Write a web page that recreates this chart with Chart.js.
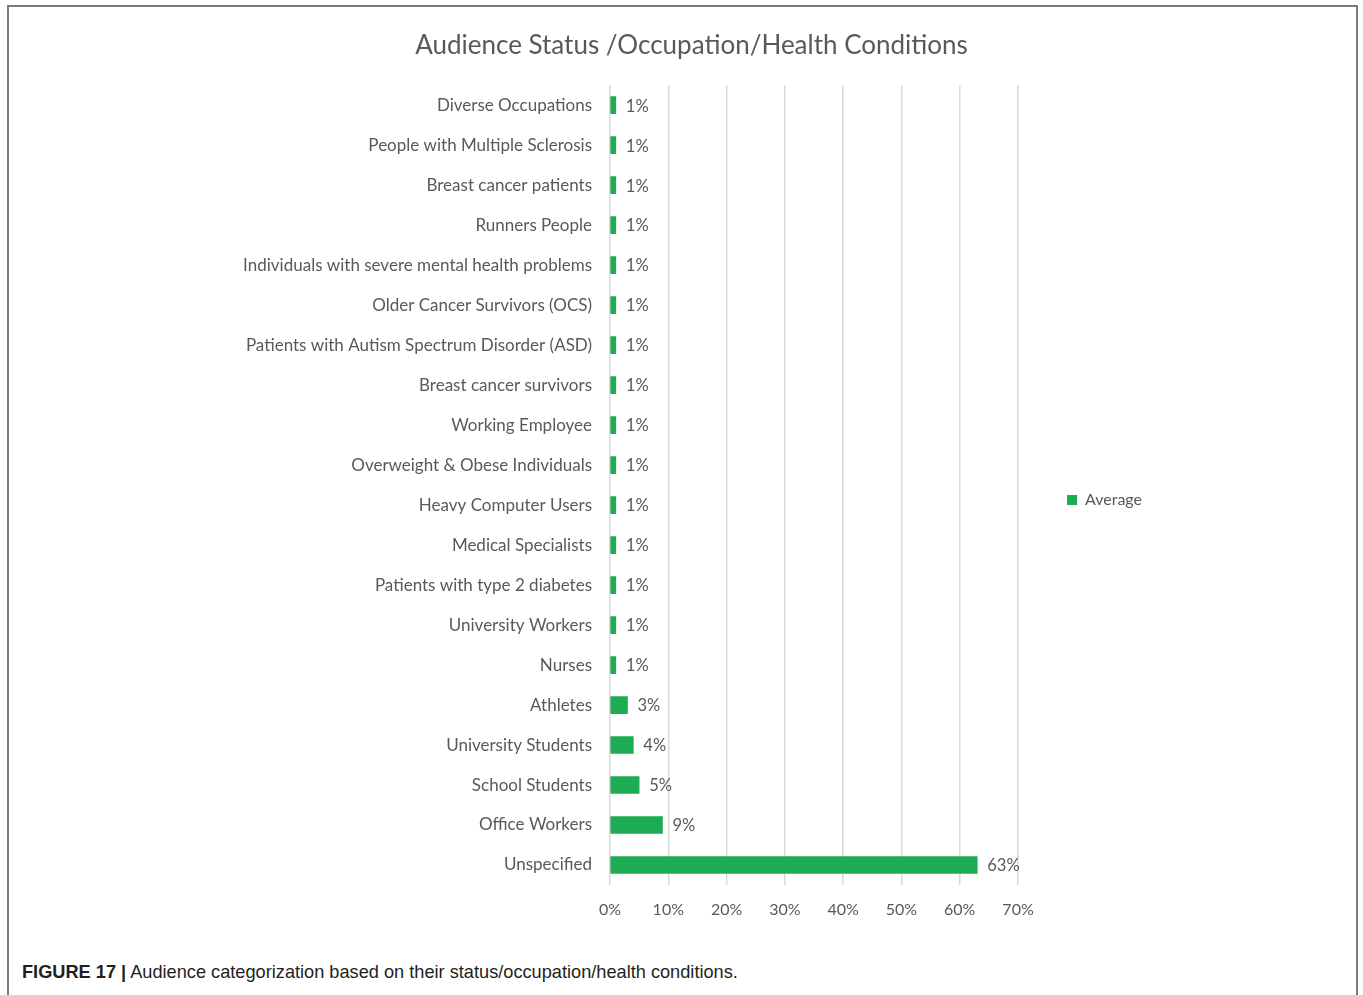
<!DOCTYPE html>
<html>
<head>
<meta charset="utf-8">
<script src="https://cdn.jsdelivr.net/npm/chart.js@4.4.1/dist/chart.umd.min.js"></script>
<style>
  html, body { margin: 0; padding: 0; background: #fff; width: 1363px; height: 995px; overflow: hidden; }
  #frame { position: absolute; left: 7px; top: 5px; width: 1351px; height: 1010px; border: 2px solid #7a7a7a; box-sizing: border-box; }
  #wrap { position: absolute; left: 0; top: 0; width: 1363px; height: 935px; }
  #caption { position: absolute; left: 22px; top: 962px; font-family: "Liberation Sans", Arial, sans-serif; font-size: 18.2px; color: #231f20; white-space: nowrap; }
  #caption b { font-weight: bold; }
</style>
</head>
<body>
<div id="frame"></div>
<div id="wrap"><canvas id="c"></canvas></div>
<div id="caption"><b>FIGURE 17 |</b> Audience categorization based on their status/occupation/health conditions.</div>
<script>
const categories = [
  "Diverse Occupations",
  "People with Multiple Sclerosis",
  "Breast cancer patients",
  "Runners People",
  "Individuals with severe mental health problems",
  "Older Cancer Survivors (OCS)",
  "Patients with Autism Spectrum Disorder (ASD)",
  "Breast cancer survivors",
  "Working Employee",
  "Overweight & Obese Individuals",
  "Heavy Computer Users",
  "Medical Specialists",
  "Patients with type 2 diabetes",
  "University Workers",
  "Nurses",
  "Athletes",
  "University Students",
  "School Students",
  "Office Workers",
  "Unspecified"
];
const averageValues = [1, 1, 1, 1, 1, 1, 1, 1, 1, 1, 1, 1, 1, 1, 1, 3, 4, 5, 9, 63];
const seriesName = "Average";
const titleText = "Audience Status /Occupation/Health Conditions";
const xTickValues = [0, 10, 20, 30, 40, 50, 60, 70];

const GREEN = "#1DAB54";
const GREY = "#595959";
const FONT = "Lato, 'Open Sans', sans-serif";

const valueLabels = {
  id: "valueLabels",
  afterDatasetsDraw(chart) {
    const ctx = chart.ctx;
    const meta = chart.getDatasetMeta(0);
    const data = chart.data.datasets[0].data;
    ctx.save();
    ctx.font = "16.5px " + FONT;
    ctx.fillStyle = GREY;
    ctx.textAlign = "left";
    ctx.textBaseline = "middle";
    meta.data.forEach((bar, i) => {
      ctx.fillText(data[i] + "%", bar.x + 10, bar.y + 1);
    });
    ctx.restore();
  }
};

new Chart(document.getElementById("c"), {
  type: "bar",
  data: {
    labels: categories,
    datasets: [{
      label: seriesName,
      data: averageValues,
      backgroundColor: GREEN,
      borderWidth: 0,
      barThickness: 17
    }]
  },
  options: {
    indexAxis: "y",
    responsive: true,
    maintainAspectRatio: false,
    animation: false,
    layout: { padding: { left: 231, right: 211, top: 0, bottom: 0 } },
    plugins: {
      title: {
        display: true,
        text: titleText,
        color: GREY,
        font: { family: FONT, size: 26, weight: "normal" },
        padding: { top: 30, bottom: 24 }
      },
      legend: {
        display: true,
        position: "right",
        align: "center",
        title: { display: true, text: " ", font: { size: 10 }, padding: { top: 41, bottom: 12 } },
        labels: {
          boxWidth: 10,
          boxHeight: 10,
          padding: 49,
          color: GREY,
          font: { family: FONT, size: 16 }
        }
      },
      tooltip: { enabled: false }
    },
    scales: {
      x: {
        min: 0,
        max: 70,
        afterBuildTicks(scale) { scale.ticks = xTickValues.map(v => ({ value: v })); },
        afterFit(scale) { scale.height = 50; },
        ticks: {
          color: GREY,
          font: { family: FONT, size: 16 },
          padding: 15,
          callback: v => v + "%"
        },
        grid: { color: "#d9d9d9", lineWidth: 1.5, drawTicks: false },
        border: { display: false }
      },
      y: {
        afterFit(scale) { scale.width = 379; },
        ticks: {
          color: GREY,
          font: { family: FONT, size: 17 },
          padding: 18
        },
        grid: { display: false, drawTicks: false },
        border: { display: false }
      }
    }
  },
  plugins: [valueLabels]
});
</script>
</body>
</html>
